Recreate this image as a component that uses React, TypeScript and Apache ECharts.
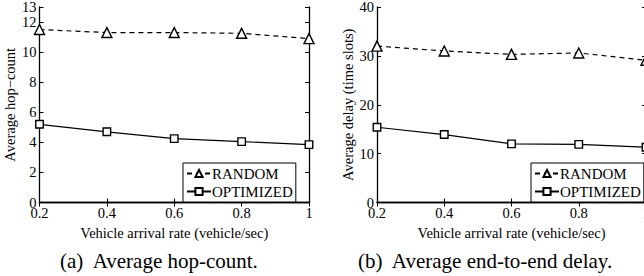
import React, { useEffect, useRef } from "react";
import * as echarts from "echarts";

const xValues = [0.2, 0.4, 0.6, 0.8, 1.0];
const hopRandom = [11.5, 11.3, 11.3, 11.25, 10.9];
const hopOptimized = [5.2, 4.7, 4.25, 4.05, 3.85];
const delayRandom = [32.0, 31.0, 30.3, 30.6, 29.1];
const delayOptimized = [15.4, 13.9, 12.0, 11.9, 11.3];
const seriesNames = ["RANDOM", "OPTIMIZED"];
const captions = ["(a)  Average hop-count.", "(b)  Average end-to-end delay."];
const xName = "Vehicle arrival rate (vehicle/sec)";
const yNames = ["Average hop\u2212count", "Average delay (time slots)"];

const FONT = "'Liberation Serif', 'Times New Roman', serif";

export default function App() {
  const ref = useRef<HTMLDivElement>(null);
  useEffect(() => {
    const chart = echarts.init(ref.current!, null, { renderer: "svg" });
    const grids = [
      { left: 39.5, top: 7, width: 269.5, height: 195.5, outerBoundsMode: "none", containLabel: false },
      { left: 377, top: 7, width: 269, height: 195.5, outerBoundsMode: "none", containLabel: false },
    ];
    const yMax = [13, 40];
    const yInt = [2, 10];
    const axisLine = { show: true, lineStyle: { color: "#000", width: 1.3 } };
    const tick = { show: true, inside: true, length: 4, lineStyle: { color: "#000", width: 1 } };
    const labelStyle = { color: "#000", fontFamily: FONT, fontSize: 14.5 };
    const xAxis: any[] = [];
    const yAxis: any[] = [];
    for (let g = 0; g < 2; g++) {
      xAxis.push({
        type: "value", gridIndex: g, min: 0.2, max: 1, interval: 0.2,
        axisLine, axisTick: tick, splitLine: { show: false },
        axisLabel: { ...labelStyle, margin: 3 },
        name: xName, nameLocation: "middle", nameGap: 20,
        nameTextStyle: { color: "#000", fontFamily: FONT, fontSize: 14.5 },
      });
      xAxis.push({
        type: "value", gridIndex: g, position: "top", min: 0.2, max: 1, interval: 0.2,
        axisLine, axisTick: tick, splitLine: { show: false }, axisLabel: { show: false },
      });
      yAxis.push({
        type: "value", gridIndex: g, min: 0, max: yMax[g], interval: yInt[g],
        axisLine, axisTick: tick, splitLine: { show: false },
        axisLabel: { ...labelStyle, margin: 3 },
        name: yNames[g], nameLocation: "middle", nameRotate: 90, nameGap: 22,
        nameTextStyle: { color: "#000", fontFamily: FONT, fontSize: 14.5 },
      });
      yAxis.push({
        type: "value", gridIndex: g, position: "right", min: 0, max: yMax[g], interval: yInt[g],
        axisLine, axisTick: tick, splitLine: { show: false }, axisLabel: { show: false },
      });
    }
    const mk = (name: string, data: number[], g: number, dashed: boolean) => ({
      name, type: "line", xAxisIndex: g * 2, yAxisIndex: g * 2,
      data: xValues.map((x, i) => [x, data[i]]),
      symbol: dashed ? "triangle" : "rect",
      symbolSize: dashed ? 10 : 7.5,
      showAllSymbol: true,
      lineStyle: { color: "#000", width: 1.2, type: dashed ? [5, 4] : "solid" },
      itemStyle: { color: "#fff", borderColor: "#000", borderWidth: 1.4 },
    });
    const series = [
      mk(seriesNames[0], hopRandom, 0, true),
      mk(seriesNames[1], hopOptimized, 0, false),
      mk(seriesNames[0], delayRandom, 1, true),
      mk(seriesNames[1], delayOptimized, 1, false),
    ];
    const legendBase = {
      orient: "vertical", top: 163, itemWidth: 24, itemHeight: 9, itemGap: 3,
      padding: [3, 3, 3, 3], borderColor: "#000", borderWidth: 1, backgroundColor: "#fff",
      textStyle: { color: "#000", fontFamily: FONT, fontSize: 15, padding: [0, 0, 0, -4] },
      data: seriesNames, selectedMode: false,
    };
    chart.setOption({
      animation: false,
      textStyle: { fontFamily: FONT },
      grid: grids,
      xAxis, yAxis, series,
      legend: [
        { ...legendBase, left: 183 },
        { ...legendBase, left: 531 },
      ],
      graphic: [
        { type: "text", left: 60, top: 250, style: { text: captions[0], fontFamily: FONT, fontSize: 21, fill: "#000" } },
        { type: "text", left: 358, top: 250, style: { text: captions[1], fontFamily: FONT, fontSize: 21, fill: "#000" } },
      ],
    });
    return () => chart.dispose();
  }, []);
  return (
    <div
      ref={ref}
      style={{ position: "fixed", left: 0, top: 0, width: 644, height: 276, background: "#fff" }}
    />
  );
}
